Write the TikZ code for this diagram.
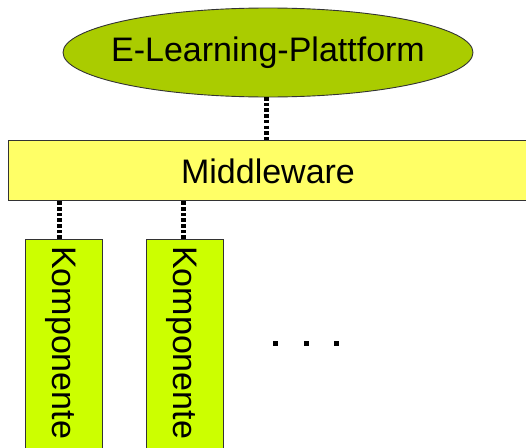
\documentclass[tikz,border=0pt]{standalone}
\usepackage{fontspec}
\setmainfont{Liberation Sans}
\usetikzlibrary{shapes.geometric}
\definecolor{platgreen}{HTML}{AACC00}
\definecolor{midyellow}{HTML}{FFFF66}
\definecolor{compgreen}{HTML}{CCFF00}
\definecolor{edge}{HTML}{333333}
\tikzset{
  plat/.style={ellipse, draw=edge, line width=0.9pt, fill=platgreen, minimum width=410pt, minimum height=89pt, inner sep=0pt},
  midbox/.style={rectangle, draw=edge, line width=0.9pt, fill=midyellow, minimum width=530pt, minimum height=60pt, inner sep=0pt, anchor=north west},
  compbox/.style={rectangle, draw=edge, line width=0.9pt, fill=compgreen, minimum width=77pt, minimum height=230pt, inner sep=0pt, anchor=north west},
  bigtext/.style={font=\fontsize{34}{40}\selectfont, inner sep=0pt},
  comptext/.style={bigtext, rotate=-90, anchor=west},
  conn/.style={draw=black, line width=5pt, dash pattern=on 3.6pt off 2.1pt},
}
\begin{document}
\begin{tikzpicture}[x=1pt,y=-1pt]
\useasboundingbox (0,0) rectangle (526,447);
\clip (0,0) rectangle (526,447);
\node[plat] (E) at (268,52.5) {};
\node[bigtext] (Et) at (E) {E-Learning-Plattform};
\node[midbox] (M) at (8,140) {};
\node[bigtext] (Mt) at (268,171) {Middleware};
\node[compbox] (K1) at (25,239) {};
\node[compbox] (K2) at (146,239) {};
\node[comptext] (K1t) at (61,246) {Komponente};
\node[comptext] (K2t) at (182,246) {Komponente};
\draw[conn] (266,97) coordinate (c0) -- (c0 |- M.north);
\draw[conn] ([xshift=-4.5pt]K1.north) coordinate (c1) -- (c1 |- M.south);
\draw[conn] ([xshift=-1.5pt]K2.north) coordinate (c2) -- (c2 |- M.south);
\foreach \dx in {275,306,336}
  \fill (\dx-2.5,340.5) rectangle (\dx+2.5,345.5);
\end{tikzpicture}
\end{document}
